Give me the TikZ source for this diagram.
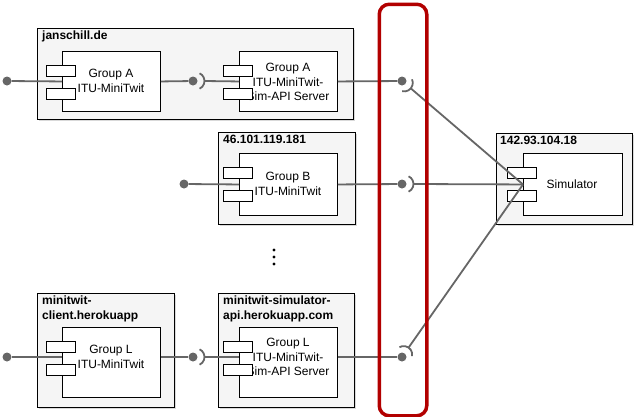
\documentclass[tikz,border=0pt]{standalone}
\usepackage{fontspec}
\setmainfont{Liberation Sans}
\usetikzlibrary{calc,shadows}
\definecolor{boxfill}{HTML}{F5F5F5}
\definecolor{wire}{HTML}{666666}
\definecolor{redline}{HTML}{B20000}
\newcommand\myports[1]{%
  \node[portbox, anchor=north west] (#1p1) at ($(#1.north west)+(-16,14)$) {};
  \node[portbox, anchor=north west] (#1p2) at ($(#1.north west)+(-16,37)$) {};
}
\newcommand\mysocket[2]{%
  \draw[wire] ($(#1)+(#2:3pt)+(#2-65:8.5pt)$) arc[start angle=#2-65, end angle=#2+65, radius=8.5pt];
}
\begin{document}
\begin{tikzpicture}[x=1pt,y=-1pt,
  hostbox/.style={draw=black, fill=boxfill, line width=1pt, inner sep=0, anchor=north west,
    drop shadow={shadow xshift=1.5pt, shadow yshift=-1.5pt, opacity=0.3}},
  compbox/.style={draw=black, fill=white, line width=0.9pt, inner sep=0, anchor=north west},
  portbox/.style={draw=black, fill=white, line width=0.9pt, inner sep=0, minimum width=29pt, minimum height=11pt},
  hostlbl/.style={font=\bfseries\fontsize{12}{15}\selectfont, align=left, anchor=north west, inner sep=0},
  complbl/.style={font=\fontsize{12}{14.5}\selectfont, align=center, inner sep=0},
  wire/.style={draw=wire, line width=1.8pt},
  dotnode/.style={circle, fill=wire, minimum size=9pt, inner sep=0},
]
\useasboundingbox (0,0) rectangle (636,416);

% hosts
\node[hostbox, minimum width=316pt, minimum height=91pt] (hA) at (37,28) {};
\node[hostbox, minimum width=137pt, minimum height=92pt] (hB) at (218,132) {};
\node[hostbox, minimum width=137pt, minimum height=114pt] (hL1) at (37,293) {};
\node[hostbox, minimum width=136pt, minimum height=114pt] (hL2) at (218,293) {};
\node[hostbox, minimum width=136pt, minimum height=91pt] (hS) at (496,133) {};

\node[hostlbl] (lA) at ($(hA.north west)+(5,2.5)$) {janschill.de};
\node[hostlbl] (lB) at ($(hB.north west)+(5,2.5)$) {46.101.119.181};
\node[hostlbl] (lL1) at ($(hL1.north west)+(5,2.5)$) {minitwit-\\client.herokuapp};
\node[hostlbl] (lL2) at ($(hL2.north west)+(5,2.5)$) {minitwit-simulator-\\api.herokuapp.com};
\node[hostlbl] (lS) at ($(hS.north west)+(4,2.5)$) {142.93.104.18};

% components
\node[compbox, minimum width=98pt, minimum height=60pt] (cA1) at (62,51) {};
\node[compbox, minimum width=98pt, minimum height=60pt] (cA2) at (239,51) {};
\node[compbox, minimum width=98pt, minimum height=62pt] (cB) at (239,153) {};
\node[compbox, minimum width=98pt, minimum height=70pt] (cL1) at (62,327) {};
\node[compbox, minimum width=98pt, minimum height=70pt] (cL2) at (239,327) {};
\node[compbox, minimum width=99pt, minimum height=62pt] (cS) at (523,153) {};

\node[complbl] (tA1) at (111,81) {Group A\\ITU-MiniTwit};
\node[complbl] (tA2) at (288,82) {Group A\\ITU-MiniTwit-\\Sim-API Server};
\node[complbl] (tB) at (288,184) {Group B\\ITU-MiniTwit};
\node[complbl] (tL1) at (111,357) {Group L\\ITU-MiniTwit};
\node[complbl] (tL2) at (288,357) {Group L\\ITU-MiniTwit-\\Sim-API Server};
\node[complbl] (tS) at (572,184) {Simulator};

\myports{cA1}
\myports{cA2}
\myports{cB}
\myports{cL1}
\myports{cL2}
\myports{cS}

% dots
\node[dotnode] (dA0) at (7,81) {};
\node[dotnode] (dA1) at (193,81) {};
\node[dotnode] (dA2) at (402,81) {};
\node[dotnode] (dB0) at (184,184) {};
\node[dotnode] (dB2) at (402,184) {};
\node[dotnode] (dL0) at (7,357) {};
\node[dotnode] (dL1) at (193,357) {};
\node[dotnode] (dL2) at (402,357) {};

% connectors
\draw[wire] (dA0) -- (cA1.west);
\draw[wire] (cA1.east) -- (dA1);
\draw[wire] ($(dA1)+(11.5pt,0pt)$) -- (cA2.west);
\draw[wire] (cA2.east) -- (dA2);
\draw[wire] (dB0) -- (cB.west);
\draw[wire] (cB.east) -- (dB2);
\draw[wire] (dL0) -- (dL0 -| cL1.west);
\draw[wire] (dL1 -| cL1.east) -- (dL1);
\draw[wire] ($(dL1)+(11.5pt,0pt)$) -- (dL1 -| cL2.west);
\draw[wire] (dL2 -| cL2.east) -- (dL2);

\draw[wire] ($(dA2)+(-40:11.5pt)$) -- (cS.west);
\draw[wire] ($(dB2)+(0:11.5pt)$) -- (cS.west);
\draw[wire] ($(dL2)+(55:11.5pt)$) -- (cS.west);

\mysocket{dA1}{0}
\mysocket{dL1}{0}
\mysocket{dA2}{-40}
\mysocket{dB2}{0}
\mysocket{dL2}{55}

% vertical ellipsis
\fill (274,250) circle[radius=1.6pt];
\fill (274,257) circle[radius=1.6pt];
\fill (274,264) circle[radius=1.6pt];

% red boundary
\node[draw=redline, line width=3.5pt, rounded corners=10pt, inner sep=0,
  minimum width=47.5pt, minimum height=411.5pt, anchor=north west] (redzone) at (377.5,2.5) {};
\end{tikzpicture}
\end{document}
